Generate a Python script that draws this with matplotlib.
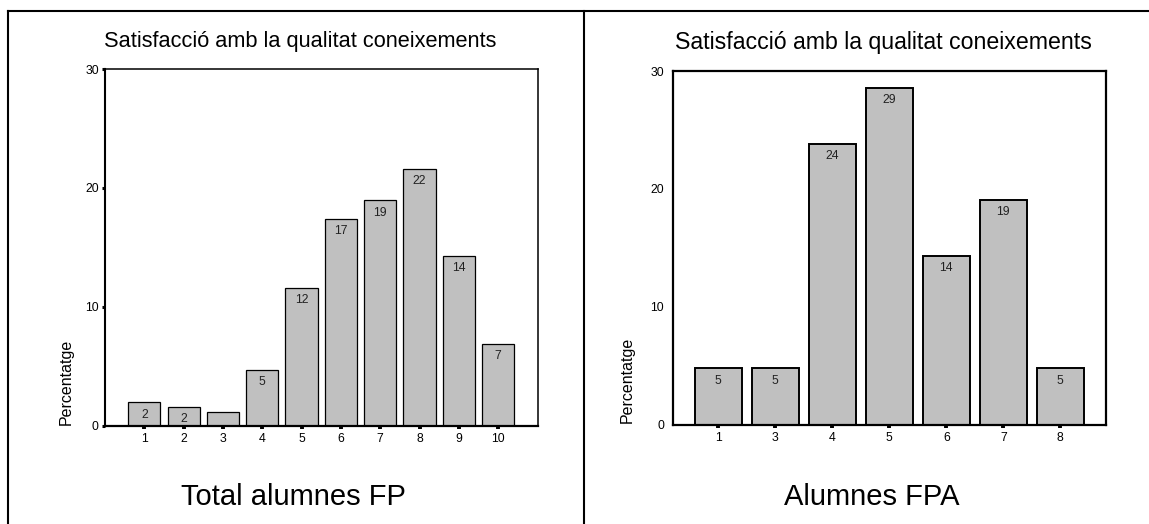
import numpy as np
import matplotlib.pyplot as plt
from matplotlib.lines import Line2D

plt.rcParams['font.family'] = ['Liberation Sans', 'DejaVu Sans']

# left panel: all FP students
fp_cats = ['1', '2', '3', '4', '5', '6', '7', '8', '9', '10']
fp_pct = [1.95, 1.55, 1.15, 4.65, 11.55, 17.4, 18.95, 21.6, 14.3, 6.9]
fp_labels = ['2', '2', '', '5', '12', '17', '19', '22', '14', '7']

# right panel: FPA students
fpa_cats = ['1', '3', '4', '5', '6', '7', '8']
fpa_pct = [4.76, 4.76, 23.81, 28.57, 14.29, 19.05, 4.76]
fpa_labels = ['5', '5', '24', '29', '14', '19', '5']

title = 'Satisfacció amb la qualitat coneixements'
ylabel = 'Percentatge'
grey = '#c0c0c0'

W, H = 1149, 524
fig = plt.figure(figsize=(W / 100, H / 100), dpi=100)


def px(x0, y0, x1, y1):
    """Pixel box (top-left origin) to figure fraction rect."""
    return [x0 / W, 1 - y1 / H, (x1 - x0) / W, (y1 - y0) / H]


def draw(ax, cats, vals, labels, xlim, spine_w, edge_w, yticks_len):
    xs = np.arange(len(cats)) + (1 if xlim[0] >= 0 else 0)
    ax.bar(xs, vals, width=0.82, color=grey, edgecolor='black',
           linewidth=edge_w, zorder=2)
    for x, v, lab in zip(xs, vals, labels):
        if lab:
            ax.annotate(lab, (x, v), xytext=(0, -4.5),
                        textcoords='offset points', ha='center', va='top',
                        fontsize=8.8, color='#222222')
    ax.set_xlim(*xlim)
    ax.set_ylim(0, 30)
    ax.set_yticks([0, 10, 20, 30])
    ax.set_xticks(xs)
    ax.set_xticklabels(cats)
    for s in ax.spines.values():
        s.set_linewidth(spine_w)
    ax.tick_params(axis='x', length=2.5, width=2.8, pad=3, labelsize=8.8)
    ax.tick_params(axis='y', length=yticks_len, width=2.2, pad=2.5,
                   labelsize=8.8)


ax1 = fig.add_axes(px(105, 69, 537.5, 425.5))
draw(ax1, fp_cats, fp_pct, fp_labels, (0, 11), 1.1, 0.9, 2)
ax1.spines['left'].set_linewidth(1.5)
ax1.spines['bottom'].set_linewidth(1.6)

ax2 = fig.add_axes(px(672.5, 71, 1106, 424.5))
draw(ax2, fpa_cats, fpa_pct, fpa_labels, (-0.8, 6.8), 1.6, 1.4, 0)
ax2.tick_params(axis='y', pad=6)

# titles and captions
fig.text(300 / W, 1 - 42 / H, title, ha='center', va='center',
         fontsize=15.7)
fig.text(883 / W, 1 - 42 / H, title, ha='center', va='center',
         fontsize=16.7)
fig.text(293 / W, 1 - 497 / H, 'Total alumnes FP', ha='center',
         va='center', fontsize=21)
fig.text(872 / W, 1 - 497 / H, 'Alumnes FPA', ha='center', va='center',
         fontsize=21)
fig.text(66.6 / W, 1 - 425 / H, ylabel, rotation=90, ha='center',
         va='bottom', fontsize=11.5)
fig.text(627 / W, 1 - 423 / H, ylabel, rotation=90, ha='center',
         va='bottom', fontsize=11.5)

# table frame
lw = 1.5
fig.add_artist(Line2D([7.5 / W, 1], [1 - 11 / H, 1 - 11 / H],
                      transform=fig.transFigure, color='black', lw=lw))
fig.add_artist(Line2D([7.5 / W, 7.5 / W], [0, 1 - 11 / H],
                      transform=fig.transFigure, color='black', lw=lw))
fig.add_artist(Line2D([584 / W, 584 / W], [0, 1 - 11 / H],
                      transform=fig.transFigure, color='black', lw=lw))

fig.savefig('out.png', dpi=100)
